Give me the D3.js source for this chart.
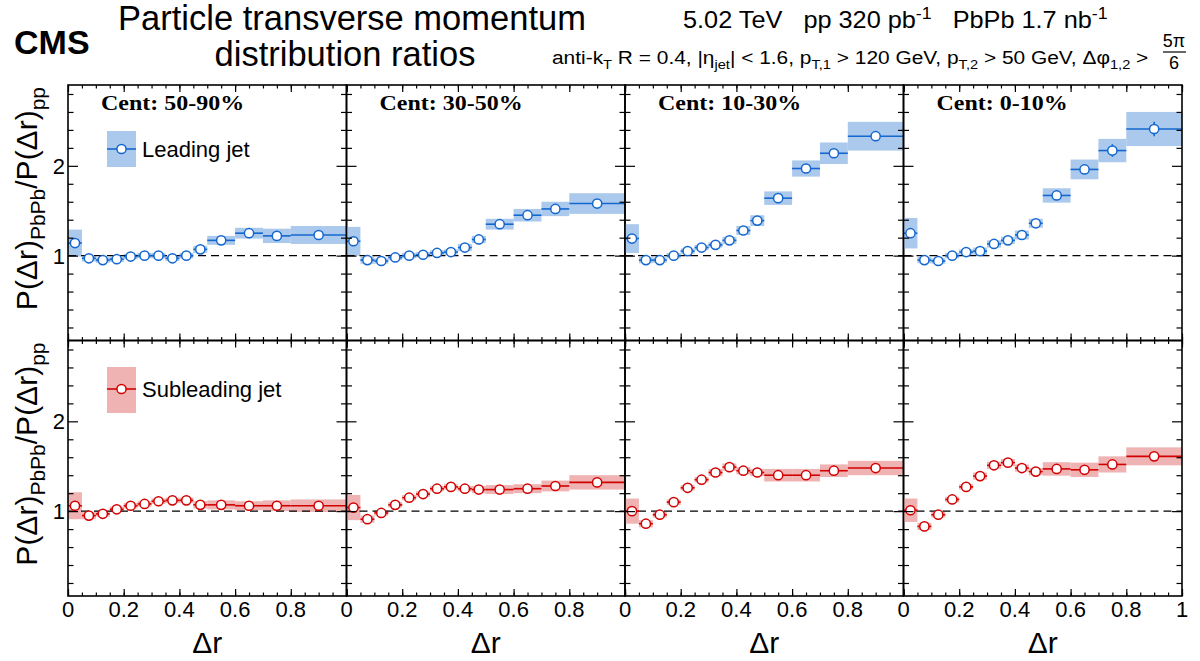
<!DOCTYPE html>
<html>
<head>
<meta charset="utf-8">
<script src="https://cdn.jsdelivr.net/npm/d3@7"></script>
<style>
  body { margin: 0; background: #fff; }
  text { font-family: "Liberation Sans", Arial, sans-serif; fill: #000; }
</style>
</head>
<body>
<svg id="chart" width="1200" height="661"></svg>
<script>
// bin edges in delta r
const binEdges = [0, 0.05, 0.1, 0.15, 0.2, 0.25, 0.3, 0.35, 0.4, 0.45, 0.5, 0.6, 0.7, 0.8, 1.0];
const centLabels = ["Cent: 50-90%", "Cent: 30-50%", "Cent: 10-30%", "Cent: 0-10%"];
const xTickLabels = ["0", "0.2", "0.4", "0.6", "0.8"];

// leading jet ratios
const leading_50_90 = [1.14, 0.97, 0.95, 0.96, 0.99, 1.00, 1.00, 0.97, 1.00, 1.07, 1.17, 1.25, 1.22, 1.23];
const leading_30_50 = [1.16, 0.95, 0.94, 0.98, 1.00, 1.01, 1.03, 1.04, 1.09, 1.18, 1.35, 1.45, 1.52, 1.58];
const leading_10_30 = [1.19, 0.95, 0.95, 1.00, 1.05, 1.09, 1.12, 1.17, 1.28, 1.39, 1.64, 1.97, 2.14, 2.33];
const leading_0_10 = [1.25, 0.95, 0.94, 1.00, 1.04, 1.05, 1.13, 1.17, 1.23, 1.36, 1.67, 1.96, 2.17, 2.41];

const leadingSys_50_90 = [0.15, 0.035, 0.03, 0.03, 0.03, 0.03, 0.03, 0.03, 0.03, 0.04, 0.05, 0.06, 0.08, 0.10];
const leadingSys_30_50 = [0.16, 0.04, 0.03, 0.03, 0.03, 0.03, 0.03, 0.03, 0.04, 0.04, 0.06, 0.07, 0.08, 0.115];
const leadingSys_10_30 = [0.16, 0.035, 0.03, 0.03, 0.03, 0.03, 0.03, 0.04, 0.05, 0.06, 0.075, 0.09, 0.12, 0.16];
const leadingSys_0_10 = [0.17, 0.035, 0.03, 0.03, 0.03, 0.04, 0.04, 0.04, 0.05, 0.05, 0.08, 0.11, 0.13, 0.19];

const leadingStat_50_90 = [0.02, 0.01, 0.01, 0.01, 0.01, 0.01, 0.01, 0.01, 0.01, 0.01, 0.01, 0.01, 0.02, 0.02];
const leadingStat_30_50 = [0.02, 0.01, 0.01, 0.01, 0.01, 0.01, 0.01, 0.01, 0.01, 0.01, 0.01, 0.02, 0.02, 0.03];
const leadingStat_10_30 = [0.02, 0.01, 0.01, 0.01, 0.01, 0.01, 0.01, 0.01, 0.02, 0.02, 0.02, 0.03, 0.04, 0.05];
const leadingStat_0_10 = [0.03, 0.02, 0.01, 0.01, 0.01, 0.02, 0.02, 0.02, 0.02, 0.02, 0.03, 0.04, 0.07, 0.08];

// subleading jet ratios
const subleading_50_90 = [1.06, 0.95, 0.97, 1.02, 1.06, 1.08, 1.11, 1.12, 1.12, 1.07, 1.07, 1.06, 1.06, 1.06];
const subleading_30_50 = [1.04, 0.91, 0.98, 1.07, 1.15, 1.19, 1.25, 1.27, 1.25, 1.24, 1.24, 1.25, 1.28, 1.32];
const subleading_10_30 = [1.00, 0.86, 0.96, 1.10, 1.26, 1.35, 1.43, 1.49, 1.45, 1.43, 1.40, 1.40, 1.45, 1.48];
const subleading_0_10 = [1.01, 0.83, 0.96, 1.13, 1.27, 1.39, 1.51, 1.54, 1.48, 1.44, 1.47, 1.46, 1.52, 1.61];

const subleadingSys_50_90 = [0.15, 0.04, 0.03, 0.03, 0.03, 0.03, 0.03, 0.03, 0.03, 0.04, 0.05, 0.05, 0.06, 0.07];
const subleadingSys_30_50 = [0.14, 0.04, 0.03, 0.03, 0.03, 0.03, 0.03, 0.03, 0.03, 0.04, 0.05, 0.05, 0.06, 0.08];
const subleadingSys_10_30 = [0.14, 0.04, 0.03, 0.03, 0.03, 0.03, 0.04, 0.04, 0.04, 0.04, 0.07, 0.07, 0.07, 0.08];
const subleadingSys_0_10 = [0.13, 0.04, 0.03, 0.03, 0.03, 0.04, 0.04, 0.04, 0.04, 0.04, 0.075, 0.08, 0.09, 0.10];

const subleadingStat_50_90 = [0.02, 0.015, 0.015, 0.015, 0.015, 0.015, 0.015, 0.015, 0.015, 0.015, 0.015, 0.015, 0.02, 0.02];
const subleadingStat_30_50 = [0.02, 0.015, 0.015, 0.015, 0.015, 0.015, 0.015, 0.015, 0.015, 0.015, 0.015, 0.015, 0.02, 0.02];
const subleadingStat_10_30 = [0.02, 0.02, 0.02, 0.02, 0.02, 0.02, 0.02, 0.02, 0.02, 0.02, 0.02, 0.02, 0.02, 0.03];
const subleadingStat_0_10 = [0.02, 0.02, 0.02, 0.02, 0.02, 0.02, 0.02, 0.02, 0.02, 0.02, 0.02, 0.02, 0.03, 0.03];

const rows = [
  {
    name: "Leading jet", line: "#1467cf", fill: "#abc9ec",
    values: [leading_50_90, leading_30_50, leading_10_30, leading_0_10],
    sys: [leadingSys_50_90, leadingSys_30_50, leadingSys_10_30, leadingSys_0_10],
    stat: [leadingStat_50_90, leadingStat_30_50, leadingStat_10_30, leadingStat_0_10],
  },
  {
    name: "Subleading jet", line: "#d20000", fill: "#efb3b3",
    values: [subleading_50_90, subleading_30_50, subleading_10_30, subleading_0_10],
    sys: [subleadingSys_50_90, subleadingSys_30_50, subleadingSys_10_30, subleadingSys_0_10],
    stat: [subleadingStat_50_90, subleadingStat_30_50, subleadingStat_10_30, subleadingStat_0_10],
  },
];

const svg = d3.select("#chart");

// layout
const panelLeft = 68;
const panelW = 278.5;
const rowTops = [85, 340.5];
const panelH = 255.5;

// adds text with sub / superscripts: parts = [[str, "sub"|"sup"|null], ...]
const richText = (g, parts, size) => {
  let shift = 0;
  parts.forEach(([str, kind]) => {
    const target = kind === "sub" ? size * 0.28 : kind === "sup" ? -size * 0.38 : 0;
    g.append("tspan")
      .attr("dy", target - shift)
      .attr("font-size", kind ? size * 0.7 : size)
      .text(str);
    shift = target;
  });
};

rows.forEach((row, ri) => {
  const top = rowTops[ri];
  const y = d3.scaleLinear().domain([0.055, 2.9]).range([top + panelH, top]);

  for (let ci = 0; ci < 4; ci++) {
    const left = panelLeft + ci * panelW;
    const x = d3.scaleLinear().domain([0, 1]).range([left, left + panelW]);
    const g = svg.append("g");
    const bins = row.values[ci].map((v, i) => ({
      lo: binEdges[i], hi: binEdges[i + 1],
      v, sys: row.sys[ci][i], stat: row.stat[ci][i],
    }));

    // systematic boxes
    g.selectAll(".sys").data(bins).join("rect")
      .attr("x", (d) => x(d.lo))
      .attr("width", (d) => x(d.hi) - x(d.lo))
      .attr("y", (d) => y(d.v + d.sys))
      .attr("height", (d) => y(d.v - d.sys) - y(d.v + d.sys))
      .attr("fill", row.fill);

    // unity line
    g.append("line")
      .attr("x1", x(0)).attr("x2", x(1))
      .attr("y1", y(1)).attr("y2", y(1))
      .attr("stroke", "#000").attr("stroke-width", 1.3)
      .attr("stroke-dasharray", "8,5");

    // bin width lines and stat errors
    g.selectAll(".xerr").data(bins).join("line")
      .attr("x1", (d) => x(d.lo)).attr("x2", (d) => x(d.hi))
      .attr("y1", (d) => y(d.v)).attr("y2", (d) => y(d.v))
      .attr("stroke", row.line).attr("stroke-width", 1.6);
    g.selectAll(".yerr").data(bins).join("line")
      .attr("x1", (d) => x((d.lo + d.hi) / 2)).attr("x2", (d) => x((d.lo + d.hi) / 2))
      .attr("y1", (d) => y(d.v - d.stat)).attr("y2", (d) => y(d.v + d.stat))
      .attr("stroke", row.line).attr("stroke-width", 1.6);

    // markers
    g.selectAll(".pt").data(bins).join("circle")
      .attr("cx", (d) => x((d.lo + d.hi) / 2))
      .attr("cy", (d) => y(d.v))
      .attr("r", 4.6)
      .attr("fill", "#fff")
      .attr("stroke", row.line).attr("stroke-width", 1.5);

    // ticks (inward, on all four sides)
    const xMinor = d3.range(0, 1.0001, 0.05);
    const xMajor = d3.range(0, 1.0001, 0.2);
    const yMinor = d3.range(0.2, 2.9, 0.2).filter((v) => Math.abs(v - 1) > 1e-6 && Math.abs(v - 2) > 1e-6);
    const yMajor = [1, 2];
    const tickGroup = (axis, transform) =>
      g.append("g").attr("transform", transform).call(axis)
        .call((s) => s.select(".domain").remove())
        .call((s) => s.selectAll("line").attr("stroke", "#000").attr("stroke-width", 1.2));

    tickGroup(d3.axisBottom(x).tickValues(xMinor).tickSize(-3.5).tickFormat(""), `translate(0,${top + panelH})`);
    tickGroup(d3.axisBottom(x).tickValues(xMajor).tickSize(-7).tickFormat(""), `translate(0,${top + panelH})`);
    tickGroup(d3.axisTop(x).tickValues(xMinor).tickSize(-3.5).tickFormat(""), `translate(0,${top})`);
    tickGroup(d3.axisTop(x).tickValues(xMajor).tickSize(-7).tickFormat(""), `translate(0,${top})`);
    tickGroup(d3.axisLeft(y).tickValues(yMinor).tickSize(-5.5).tickFormat(""), `translate(${left},0)`);
    tickGroup(d3.axisLeft(y).tickValues(yMajor).tickSize(-10).tickFormat(""), `translate(${left},0)`);
    tickGroup(d3.axisRight(y).tickValues(yMinor).tickSize(-5.5).tickFormat(""), `translate(${left + panelW},0)`);
    tickGroup(d3.axisRight(y).tickValues(yMajor).tickSize(-10).tickFormat(""), `translate(${left + panelW},0)`);

    // frame
    g.append("rect")
      .attr("x", left).attr("y", top)
      .attr("width", panelW).attr("height", panelH)
      .attr("fill", "none").attr("stroke", "#000").attr("stroke-width", 1.6);

    // centrality label
    if (ri === 0) {
      g.append("text")
        .attr("transform", `translate(${left + 33},110) scale(1.09,1)`)
        .style("font-family", "'Liberation Serif', 'Times New Roman', serif")
        .attr("font-weight", "bold").attr("font-size", 22)
        .text(centLabels[ci]);
    }

    // x tick labels on bottom row
    if (ri === 1) {
      const labels = ci === 3 ? xTickLabels.concat(["1"]) : xTickLabels;
      g.selectAll(".xl").data(labels).join("text")
        .attr("x", (d) => x(+d)).attr("y", 617)
        .attr("text-anchor", "middle").attr("font-size", 22)
        .text((d) => d);
      g.append("text")
        .attr("x", x(0.5)).attr("y", 653)
        .attr("text-anchor", "middle").attr("font-size", 30)
        .text("\u0394r");
    }

    // y tick labels on first column
    if (ci === 0) {
      g.selectAll(".yl").data(yMajor).join("text")
        .attr("x", left - 3).attr("y", (d) => y(d))
        .attr("dy", "0.36em")
        .attr("text-anchor", "end").attr("font-size", 22)
        .text((d) => d);

      // legend
      const lx = 107, lw = 29;
      const ly = ri === 0 ? [131, 167] : [367, 413];
      const my = ri === 0 ? 149 : 389;
      g.append("rect").attr("x", lx).attr("y", ly[0])
        .attr("width", lw).attr("height", ly[1] - ly[0]).attr("fill", row.fill);
      g.append("line").attr("x1", lx).attr("x2", lx + lw)
        .attr("y1", my).attr("y2", my)
        .attr("stroke", row.line).attr("stroke-width", 1.6);
      g.append("circle").attr("cx", lx + lw / 2).attr("cy", my).attr("r", 4.6)
        .attr("fill", "#fff").attr("stroke", row.line).attr("stroke-width", 1.5);
      g.append("text").attr("x", 142).attr("y", my + 8)
        .attr("font-size", 22).text(row.name);
    }
  }

  // y axis title
  const yt = svg.append("text")
    .attr("transform", `translate(37,${top + 2}) rotate(-90)`)
    .attr("text-anchor", "end");
  richText(yt, [["P(\u0394r)", null], ["PbPb", "sub"], ["/P(\u0394r)", null], ["pp", "sub"]], 30);
});

// header
svg.append("text").attr("x", 14).attr("y", 54)
  .attr("font-weight", "bold").attr("font-size", 34).text("CMS");
svg.append("text").attr("x", 352).attr("y", 30)
  .attr("text-anchor", "middle").attr("font-size", 34.5).text("Particle transverse momentum");
svg.append("text").attr("x", 345).attr("y", 66)
  .attr("text-anchor", "middle").attr("font-size", 34.5).text("distribution ratios");

const h1 = svg.append("text").attr("transform", "translate(683,28) scale(1.1,1)")
  .style("white-space", "pre");
richText(h1, [["5.02 TeV   pp 320 pb", null], ["-1", "sup"], ["   PbPb 1.7 nb", null], ["-1", "sup"]], 23);

const h2 = svg.append("text").attr("transform", "translate(552,64) scale(1.1,1)");
richText(h2, [
  ["anti-k", null], ["T", "sub"], [" R = 0.4, |\u03b7", null], ["jet", "sub"],
  ["| < 1.6, p", null], ["T,1", "sub"], [" > 120 GeV, p", null], ["T,2", "sub"],
  [" > 50 GeV, \u0394\u03c6", null], ["1,2", "sub"], [" >", null],
], 19);

// 5pi/6 fraction
svg.append("text").attr("x", 1174).attr("y", 47).attr("text-anchor", "middle")
  .attr("font-size", 18).text("5\u03c0");
svg.append("line").attr("x1", 1163).attr("x2", 1186).attr("y1", 52).attr("y2", 52)
  .attr("stroke", "#000").attr("stroke-width", 1.2);
svg.append("text").attr("x", 1174).attr("y", 69).attr("text-anchor", "middle")
  .attr("font-size", 18).text("6");
</script>
</body>
</html>
